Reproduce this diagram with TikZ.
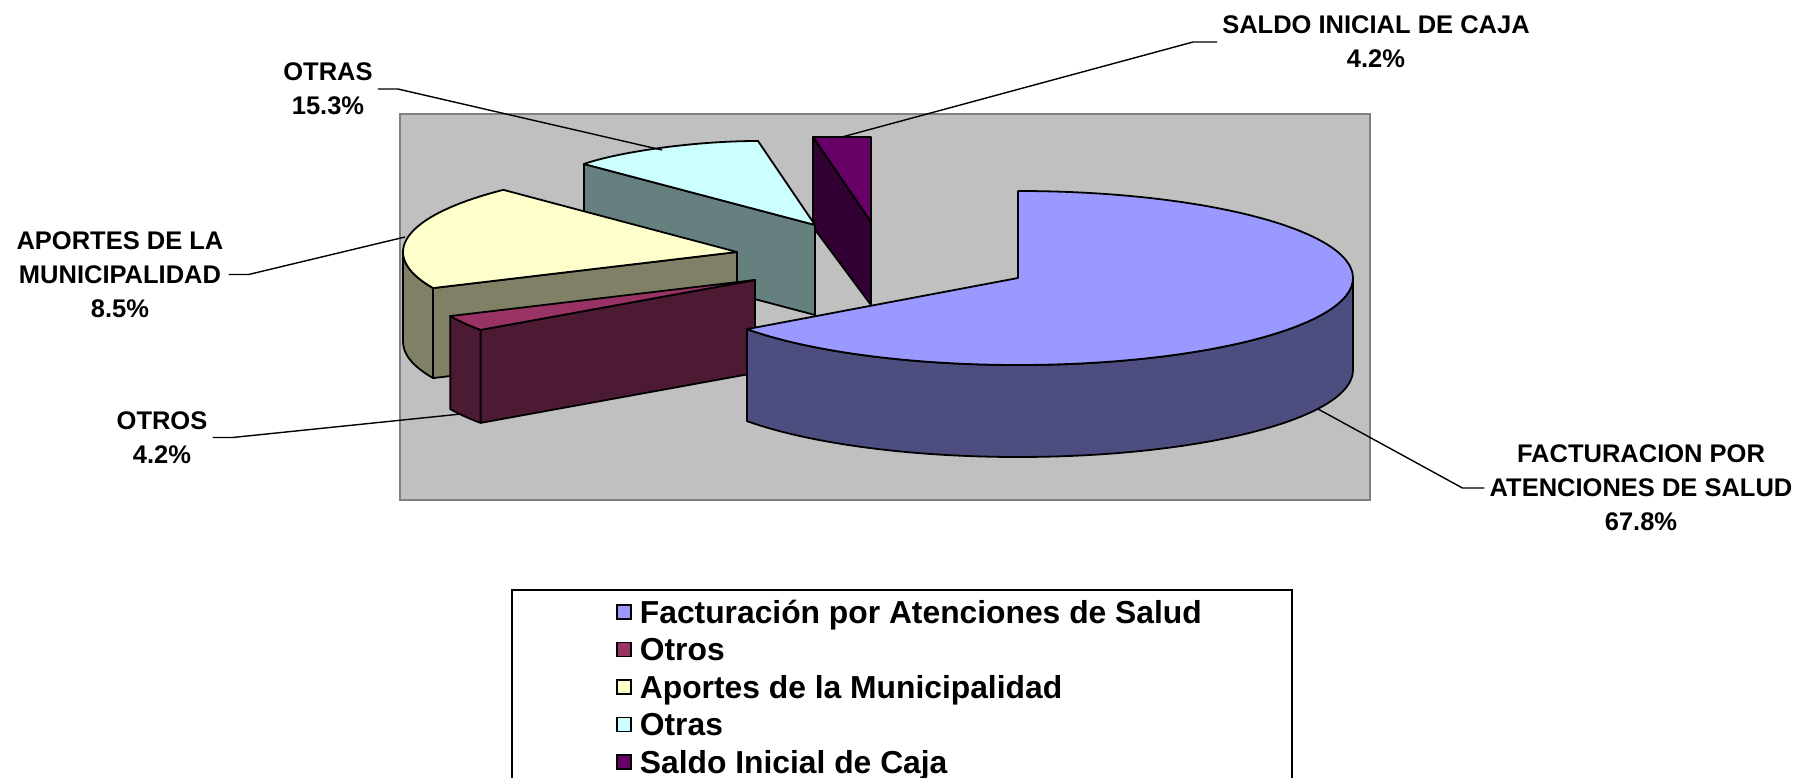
\documentclass[tikz,border=0pt]{standalone}
\usepackage{fontspec}
\setmainfont{Liberation Sans}
\usetikzlibrary{positioning}

\definecolor{plotgray}{HTML}{C0C0C0}
\definecolor{factop}{HTML}{9999FF}
\definecolor{facside}{HTML}{4D4D80}
\definecolor{otrostop}{HTML}{993366}
\definecolor{otrosside}{HTML}{4D1A33}
\definecolor{aportop}{HTML}{FFFFCC}
\definecolor{aporside}{HTML}{808066}
\definecolor{otrastop}{HTML}{CCFFFF}
\definecolor{otrasside}{HTML}{668080}
\definecolor{saldotop}{HTML}{660066}
\definecolor{saldoside}{HTML}{330033}

\tikzset{
  plotarea/.style={ % grey back wall of the chart
    fill=plotgray, draw=gray, line width=2pt
  },
  slice/.style={ % face of a pie slice
    draw=black, line width=1.8pt, line join=round
  },
  lbl/.style={ % data label
    font=\fontsize{25.5}{34}\selectfont\bfseries, align=center,
    inner xsep=5pt, inner ysep=0pt
  },
  leader/.style={draw=black, line width=1.4pt},
  key/.style={ % legend colour square
    draw=black, line width=1.4pt, minimum size=14pt, inner sep=0pt
  },
  keytext/.style={
    font=\fontsize{31.8}{38}\selectfont\bfseries, inner sep=0pt,
    text height=29pt, text depth=6.2pt
  }
}

\begin{document}
\begin{tikzpicture}[x=1pt, y=1pt]
  \useasboundingbox (0,0) rectangle (1808,-778);

  \draw[plotarea] (400,-114) rectangle (1370,-500);

  % saldo inicial de caja
  \draw[slice, fill=saldoside] (813,-137) -- (871,-222) -- (871,-305) -- (813,-227) -- cycle;
  \draw[slice, fill=saldotop] (813,-137) -- (871,-137) -- (871,-222) -- cycle;

  % otras
  \coordinate (otrasC) at (815,-225);
  \draw[slice, fill=otrasside] (584,-164) -- (otrasC) -- ++(0,-90) -- (584,-254) -- cycle;
  \draw[slice, fill=otrastop] (otrasC) -- (584,-164)
    .. controls (615,-153) and (690,-141) .. (758,-141) -- cycle;

  % aportes de la municipalidad
  \coordinate (aporC) at (737,-252);
  \draw[slice, fill=aporside] ([shift={(204.5:334 and 87)}]aporC) -- (aporC)
    -- ++(0,-90) -- ([shift={(204.5:334 and 87)},yshift=-90pt]aporC) -- cycle;
  \draw[slice, fill=aporside] ([shift={(180:334 and 87)}]aporC)
    arc[start angle=180, end angle=204.5, x radius=334, y radius=87] -- ++(0,-90)
    arc[start angle=204.5, end angle=180, x radius=334, y radius=87] -- cycle;
  \draw[slice, fill=aportop] (aporC) -- ([shift={(134.4:334 and 87)}]aporC)
    arc[start angle=134.4, end angle=204.5, x radius=334, y radius=87] -- cycle;

  % otros
  \coordinate (otrosC) at (755,-280);
  \draw[slice, fill=otrosside] ([shift={(215:335 and 87)}]otrosC) -- (otrosC)
    -- ++(0,-93) -- ([shift={(215:335 and 87)},yshift=-93pt]otrosC) -- cycle;
  \draw[slice, fill=otrosside] ([shift={(204.5:335 and 87)}]otrosC)
    arc[start angle=204.5, end angle=215, x radius=335, y radius=87] -- ++(0,-93)
    arc[start angle=215, end angle=204.5, x radius=335, y radius=87] -- cycle;
  \draw[slice, fill=otrostop] (otrosC) -- ([shift={(204.5:335 and 87)}]otrosC)
    arc[start angle=204.5, end angle=215, x radius=335, y radius=87] -- cycle;

  % facturacion por atenciones de salud
  \coordinate (facC) at (1018,-278);
  \draw[slice, fill=facside] ([shift={(216:335 and 87)}]facC)
    arc[start angle=216, end angle=360, x radius=335, y radius=87] -- ++(0,-92)
    arc[start angle=360, end angle=216, x radius=335, y radius=87] -- cycle;
  \draw[slice, fill=factop] (facC) -- ++(0,87)
    arc[start angle=90, end angle=-144, x radius=335, y radius=87] -- cycle;

  % data labels
  \node[lbl] (saldoLbl) at (1376,-42) {SALDO INICIAL DE CAJA\\4.2\%};
  \node[lbl] (otrasLbl) at (328,-89) {OTRAS\\15.3\%};
  \node[lbl] (aporLbl) at (120,-274.5) {APORTES DE LA\\MUNICIPALIDAD\\8.5\%};
  \node[lbl] (otrosLbl) at (162,-437.5) {OTROS\\4.2\%};
  \node[lbl] (facLbl) at (1641,-488) {FACTURACION POR\\ATENCIONES DE SALUD\\67.8\%};

  \coordinate (saldoPt) at (842,-137);
  \coordinate (otrasPt) at (662,-150);
  \coordinate (aporPt) at (405,-237);
  \coordinate (otrosPt) at (461,-414);
  \coordinate (facPt) at (1318,-409);

  \draw[leader] (saldoLbl.west) -- ++(-24,0) -- (saldoPt);
  \draw[leader] (otrasLbl.east) -- ++(20,0) -- (otrasPt);
  \draw[leader] (aporLbl.east) -- ++(20,0) -- (aporPt);
  \draw[leader] (otrosLbl.east) -- ++(20,0) -- (otrosPt);
  \draw[leader] (facLbl.west) -- ++(-22,0) -- (facPt);

  % legend
  \draw[black, line width=1.5pt] (512,-590) rectangle (1292,-820);
  \node[key, fill=factop] (k1) at (624,-612) {};
  \node[keytext, right=8pt of k1] (t1) {Facturación por Atenciones de Salud};
  \node[key, fill=otrostop] (k2) at (624,-649.5) {};
  \node[keytext, right=8pt of k2] (t2) {Otros};
  \node[key, fill=aportop] (k3) at (624,-687) {};
  \node[keytext, right=8pt of k3] (t3) {Aportes de la Municipalidad};
  \node[key, fill=otrastop] (k4) at (624,-724.5) {};
  \node[keytext, right=8pt of k4] (t4) {Otras};
  \node[key, fill=saldotop] (k5) at (624,-762) {};
  \node[keytext, right=8pt of k5] (t5) {Saldo Inicial de Caja};
\end{tikzpicture}
\end{document}
